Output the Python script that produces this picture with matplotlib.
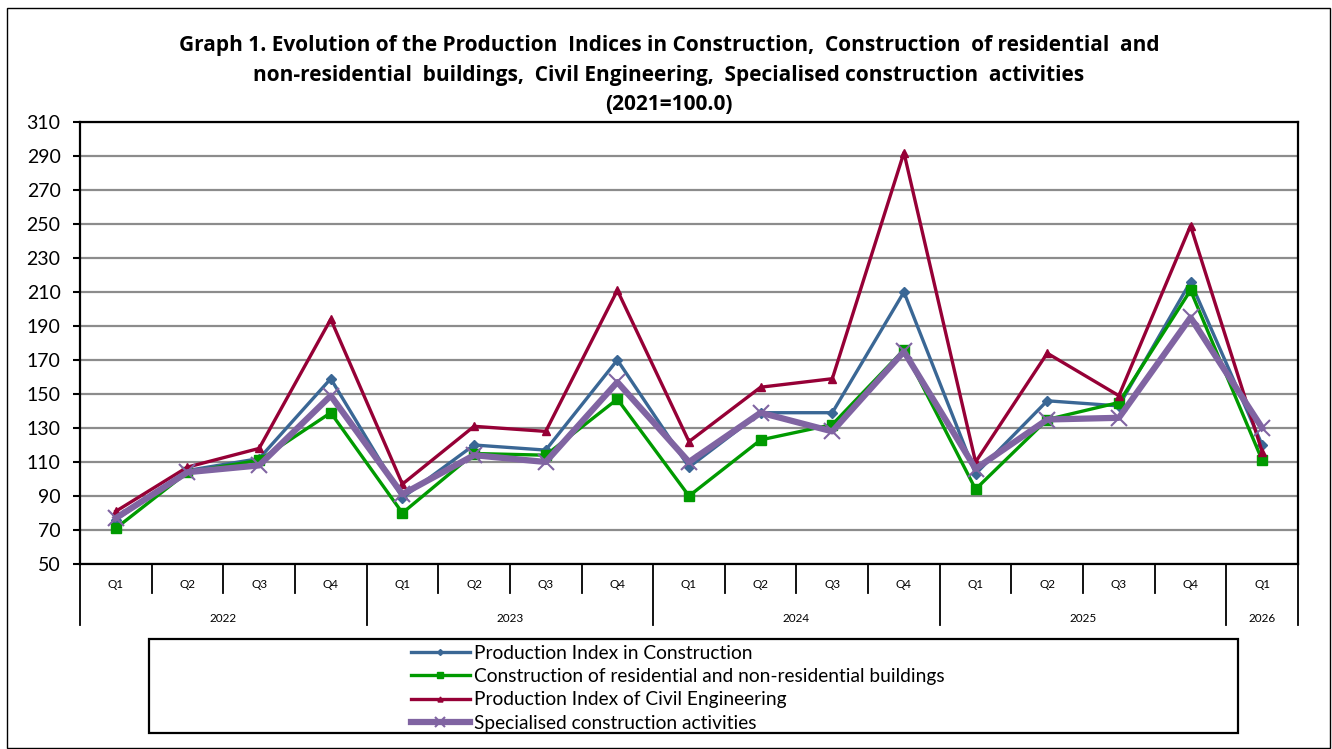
import matplotlib
matplotlib.use("Agg")
import matplotlib.pyplot as plt
from matplotlib.patches import Rectangle
import matplotlib.transforms as mtransforms

plt.rcParams['font.family'] = ['Lato', 'DejaVu Sans']

quarters = ["Q1", "Q2", "Q3", "Q4", "Q1", "Q2", "Q3", "Q4", "Q1", "Q2", "Q3", "Q4",
            "Q1", "Q2", "Q3", "Q4", "Q1"]
years = ["2022", "2023", "2024", "2025", "2026"]
year_counts = [4, 4, 4, 4, 1]

construction = [76, 105, 112, 159, 89, 120, 117, 170, 107, 139, 139, 210, 103, 146, 143, 216, 120]
buildings = [71, 104, 111, 139, 80, 115, 114, 147, 90, 123, 132, 176, 94, 135, 145, 211, 111]
civil = [81, 107, 118, 194, 97, 131, 128, 211, 122, 154, 159, 292, 110, 174, 149, 249, 116]
specialised = [77, 104, 108, 149, 91, 114, 110, 157, 110, 139, 128, 175, 106, 135, 136, 195, 130]

labels = ["Production Index in Construction",
          "Construction of residential and non-residential buildings",
          "Production Index of Civil Engineering",
          "Specialised construction activities"]

title = ("Graph 1. Evolution of the Production  Indices in Construction,  Construction  of residential  and\n"
         "non-residential  buildings,  Civil Engineering,  Specialised construction  activities\n"
         "(2021=100.0)")

W, H = 1332, 749
fig = plt.figure(figsize=(W / 100, H / 100), dpi=100)

L, R, T, B = 80, 1298, 122, 564
ax = fig.add_axes([L / W, 1 - B / H, (R - L) / W, (B - T) / H])

x = list(range(len(quarters)))
ax.plot(x, construction, color="#3A6795", lw=2.4, marker="D", ms=5, zorder=3, label=labels[0])
ax.plot(x, buildings, color="#009A00", lw=2.4, marker="s", ms=7, zorder=3, label=labels[1])
ax.plot(x, civil, color="#960036", lw=2.4, marker="^", ms=6, zorder=3, label=labels[2])
ax.plot(x, specialised, color="#8064A2", lw=4.5, marker="x", ms=12, mew=1.5, zorder=4, label=labels[3])

ax.set_xlim(-0.5, len(quarters) - 0.5)
ax.set_ylim(50, 310)
ax.set_yticks(range(50, 311, 20))
ax.tick_params(axis='y', direction='out', length=5, width=1.5, labelsize=14, pad=9)
ax.set_xticks([])
ax.grid(axis='y', color="#8c8c8c", lw=1.6)
ax.set_axisbelow(True)
for s in ax.spines.values():
    s.set_linewidth(1.6)
    s.set_color("black")

trans = mtransforms.blended_transform_factory(ax.transData, ax.transAxes)
axh = B - T
q_len = -29 / axh
y_len = -61 / axh

year_bounds = [-0.5]
for c in year_counts:
    year_bounds.append(year_bounds[-1] + c)

for k in range(len(quarters) + 1):
    xb = k - 0.5
    bottom = y_len if xb in year_bounds else q_len
    ax.plot([xb, xb], [0, bottom], color="black", lw=1.3, transform=trans, clip_on=False)

for i, q in enumerate(quarters):
    ax.text(i, -20 / axh, q, transform=trans, ha="center", va="center", fontsize=8.5)

for j, yname in enumerate(years):
    xc = (year_bounds[j] + year_bounds[j + 1]) / 2
    ax.text(xc, -54 / axh, yname, transform=trans, ha="center", va="center", fontsize=8.5)

fig.text(669 / W, 1 - 75 / H, title, ha="center", va="center", fontsize=15,
         fontweight="bold", linespacing=1.55, family=['Open Sans', 'DejaVu Sans'])

# legend
handles, lbls = ax.get_legend_handles_labels()
leg = fig.legend(handles, lbls, loc="upper left", bbox_to_anchor=(401 / W, 1 - 635 / H),
                 frameon=False, fontsize=13.8, handlelength=3.1, handletextpad=0.2,
                 labelspacing=0.33, borderpad=0, markerscale=0.6)

fig.patches.append(Rectangle((149 / W, 1 - 733 / H), (1238 - 149) / W, (733 - 639) / H,
                             transform=fig.transFigure, fill=False, ec="black", lw=1.6))
fig.patches.append(Rectangle((7 / W, 0.001), (1330 - 7) / W, (H - 9) / H,
                             transform=fig.transFigure, fill=False, ec="black", lw=1))

fig.savefig("out.png", dpi=100)
